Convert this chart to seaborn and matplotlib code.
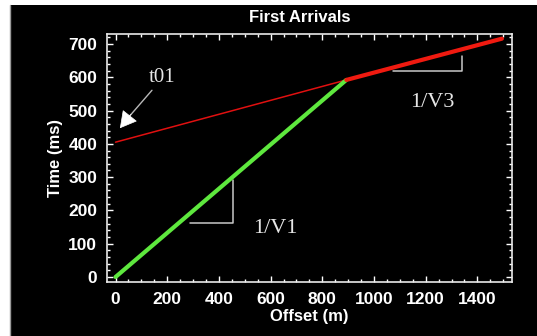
import matplotlib
matplotlib.use("Agg")
import matplotlib.pyplot as plt
from matplotlib.patches import Rectangle
from matplotlib.lines import Line2D
from matplotlib.ticker import MultipleLocator
import seaborn as sns
import pandas as pd

# Direct arrival (layer 1) and refracted arrival (layer 3) travel times
offset_direct = [0, 893]
time_direct = [0, 592]
offset_refr = [0, 893, 1495]
time_refr = [405, 592, 716]
crossover = 893

title = "First Arrivals"
xlabel = "Offset (m)"
ylabel = "Time (ms)"

sns.set_theme(style="dark")
plt.rcParams["font.family"] = ["Liberation Sans", "DejaVu Sans"]

W, H = 537, 336
fig = plt.figure(figsize=(W / 100, H / 100), dpi=100, facecolor="white")
fig.add_artist(Rectangle((10 / W, 0), 1 - 10 / W, 1 - 5 / H,
                         transform=fig.transFigure, facecolor="black",
                         edgecolor="none", zorder=0))
fig.add_artist(Line2D([9.5 / W, 9.5 / W], [0, 1 - 5 / H], transform=fig.transFigure,
                      color="#9a9a9a", lw=1, zorder=1))

ax = fig.add_axes([107 / W, 1 - 282 / H, (512 - 107) / W, (282 - 34) / H])
ax.set_facecolor("black")

direct = pd.DataFrame({"x": offset_direct, "t": time_direct})
refr = pd.DataFrame({"x": offset_refr, "t": time_refr})
refr_thin = refr[refr["x"] <= crossover]
refr_thick = refr[refr["x"] >= crossover]

sns.lineplot(data=refr_thin, x="x", y="t", ax=ax, color="#e01010", lw=1.1, zorder=3)
sns.lineplot(data=direct, x="x", y="t", ax=ax, color="#5ee83e", lw=3, zorder=4)
sns.lineplot(data=refr_thick, x="x", y="t", ax=ax, color="#f01a10", lw=3, zorder=5)

ax.set_xlim(-33, 1534)
ax.set_ylim(-15, 730)
ax.xaxis.set_major_locator(MultipleLocator(200))
ax.xaxis.set_minor_locator(MultipleLocator(50))
ax.yaxis.set_major_locator(MultipleLocator(100))
ax.yaxis.set_minor_locator(MultipleLocator(20))
ax.tick_params(which="both", direction="in", colors="white", top=True, right=True,
               bottom=True, left=True, width=1)
ax.tick_params(which="major", length=4, pad=7, labelsize=12.5, labelcolor="white")
ax.tick_params(which="minor", length=2.2)
for lab in ax.get_xticklabels() + ax.get_yticklabels():
    lab.set_fontweight("bold")
for s in ax.spines.values():
    s.set_visible(True)
    s.set_color("#e8e8e8")
    s.set_linewidth(1.2)
ax.grid(False)

ax.set_xlabel(xlabel, color="white", fontsize=12, fontweight="bold", labelpad=2)
ax.set_ylabel(ylabel, color="white", fontsize=12, fontweight="bold", labelpad=4)
fig.text(300 / W, 1 - 17 / H, title, color="white", fontsize=12, fontweight="bold",
         ha="center", va="center")

# Slope triangles and labels
tri_col = "#c8c8c8"
ax.plot([288, 455, 455], [162, 162, 291], color=tri_col, lw=1.1, zorder=2)
ax.plot([1073, 1340, 1340], [619, 619, 664], color=tri_col, lw=1.1, zorder=2)
serif = ["Liberation Serif", "DejaVu Serif"]
ax.text(617, 147, "1/V1", color="#e6e6e6", fontsize=16, family=serif,
        ha="center", va="center")
ax.text(1224, 523, "1/V3", color="#e6e6e6", fontsize=16, family=serif,
        ha="center", va="center")
ax.text(180, 598, "t01", color="#e6e6e6", fontsize=15, family=serif,
        ha="center", va="center")

# Pointer to the intercept time: grey shaft with a white head
ax.plot([141, 45], [561, 475], color="#b8b8b8", lw=1, zorder=2)
ax.annotate("", xy=(17, 447), xytext=(60, 489),
            arrowprops=dict(arrowstyle="-|>,head_length=0.9,head_width=0.5",
                            fc="white", ec="white", lw=0.5,
                            shrinkA=0, shrinkB=0))

fig.savefig("out.png", dpi=100, facecolor="white")
